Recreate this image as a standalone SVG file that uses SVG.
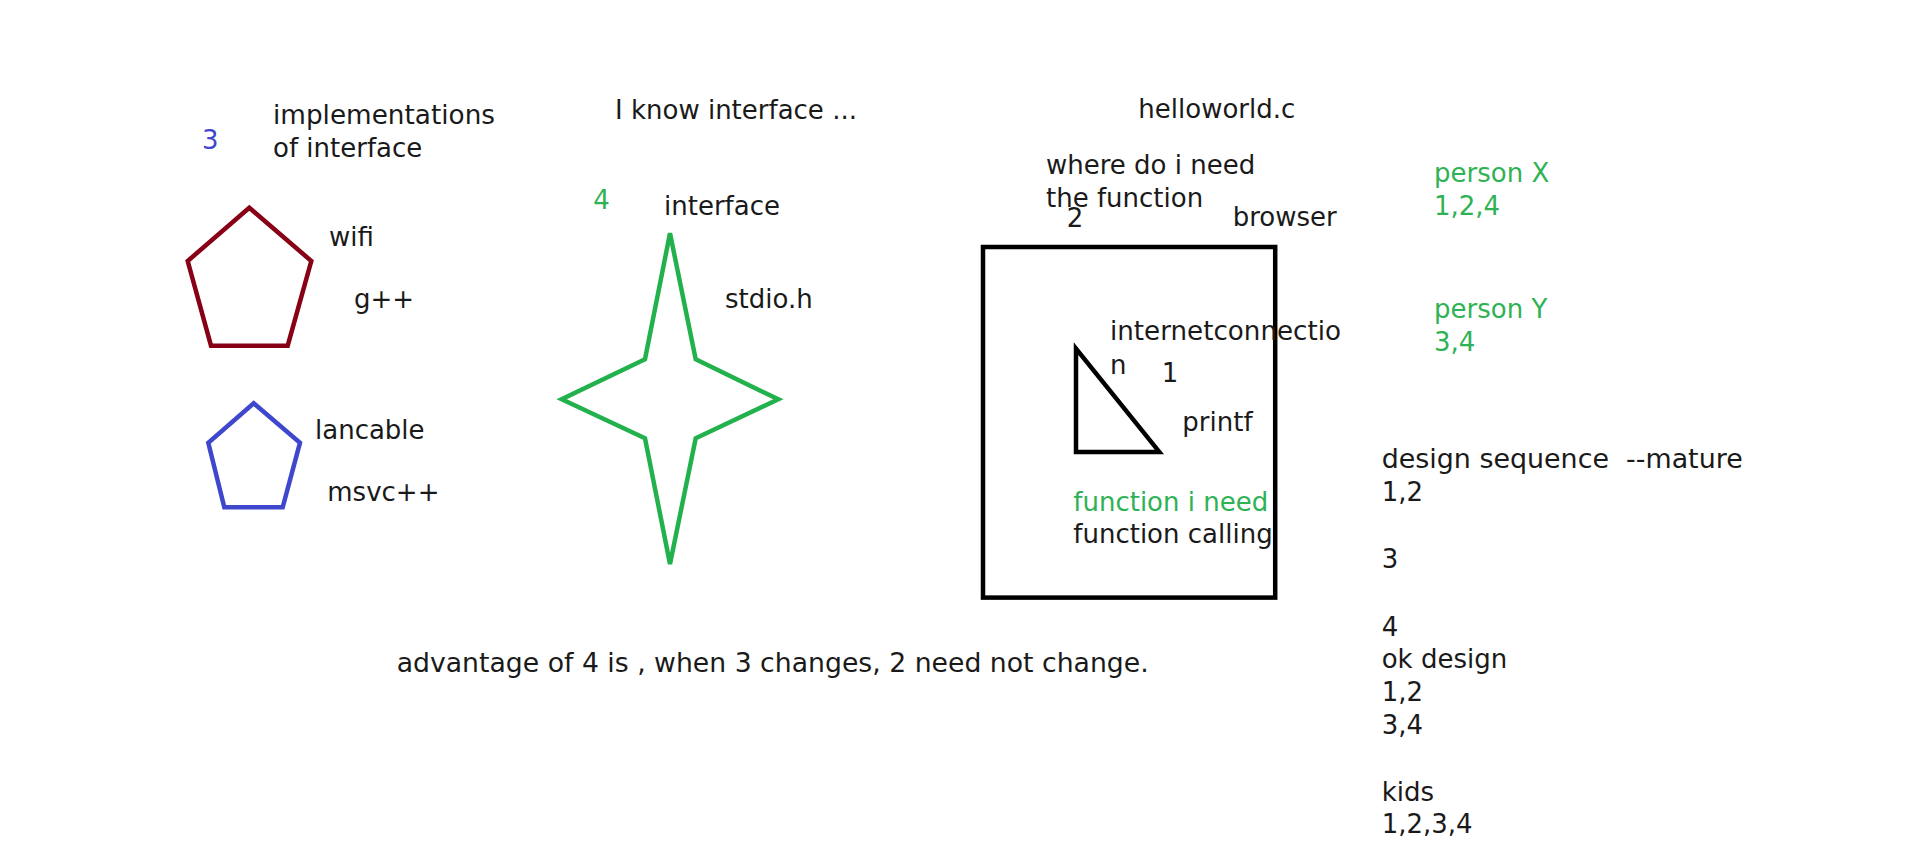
<svg xmlns="http://www.w3.org/2000/svg" width="1914" height="847" viewBox="0 0 1914 847">
<style>
text{font-family:"DejaVu Sans",Verdana,sans-serif;font-size:26px;fill:#1a1a1a}
.g{fill:#2fb255}
.b{fill:#3f48cc}
.shape{fill:none;stroke-width:4.5;stroke-linejoin:miter}
</style>
<rect width="1914" height="847" fill="#ffffff"/>
<g id="implementations">
<text class="b" x="202" y="149">3</text>
<text x="273" y="124" textLength="222" lengthAdjust="spacingAndGlyphs">implementations</text>
<text x="273" y="157">of interface</text>
</g>
<g id="wifi-pentagon">
<polygon class="shape" stroke="#880015" points="249.3,207.7 311.3,261 287.7,345.7 211,345.7 187.7,261"/>
<text x="329" y="246">wifi</text>
<text x="354" y="307.7">g++</text>
</g>
<g id="lancable-pentagon">
<polygon class="shape" stroke="#3f48cc" points="253.7,403.3 300,442.7 282.7,507.3 224.3,507.3 208.3,442.7"/>
<text x="315" y="439.3">lancable</text>
<text x="327.3" y="501">msvc++</text>
</g>
<g id="interface-star">
<text x="615" y="119.3">I know interface ...</text>
<text class="g" x="593.3" y="209.3">4</text>
<text x="664" y="215">interface</text>
<text x="725" y="307.7">stdio.h</text>
<polygon class="shape" stroke="#22b14c" points="670,233.3 695.7,359.3 778.3,399.3 695.7,438.3 670,564 645,438.3 561.7,399.3 645,359.3"/>
</g>
<g id="helloworld">
<text x="1138.3" y="117.9">helloworld.c</text>
<text x="1046" y="174">where do i need</text>
<text x="1046" y="206.7">the function</text>
<text x="1066.7" y="227.4">2</text>
<text x="1232.7" y="226.4">browser</text>
<rect class="shape" stroke="#000000" stroke-width="4.8" x="983" y="247" width="292.2" height="350.6"/>
</g>
<g id="printf-triangle">
<polygon class="shape" stroke="#000000" stroke-width="4.3" points="1076,348.6 1076,451.9 1159.3,451.9"/>
<text x="1110" y="340" textLength="231" lengthAdjust="spacingAndGlyphs">internetconnectio</text>
<text x="1110" y="373.8">n</text>
<text x="1161.7" y="382.4">1</text>
<text x="1182.3" y="431.3">printf</text>
<text class="g" x="1073.3" y="510.5">function i need</text>
<text x="1073.3" y="543.2">function calling</text>
</g>
<g id="persons">
<text class="g" x="1434" y="182.3">person X</text>
<text class="g" x="1434" y="215">1,2,4</text>
<text class="g" x="1434" y="317.7">person Y</text>
<text class="g" x="1434" y="350.7">3,4</text>
</g>
<g id="design-notes">
<text x="1381.7" y="467.7" xml:space="preserve" textLength="361" lengthAdjust="spacingAndGlyphs">design sequence  --mature</text>
<text x="1381.7" y="500.7">1,2</text>
<text x="1381.7" y="568.3">3</text>
<text x="1381.7" y="636">4</text>
<text x="1381.7" y="668.3">ok design</text>
<text x="1381.7" y="701">1,2</text>
<text x="1381.7" y="734.3">3,4</text>
<text x="1381.7" y="801">kids</text>
<text x="1381.7" y="833.3">1,2,3,4</text>
</g>
<g id="advantage">
<text x="396.7" y="672.3" textLength="752" lengthAdjust="spacingAndGlyphs">advantage of 4 is , when 3 changes, 2 need not change.</text>
</g>
<g id="connectors"></g>
</svg>
